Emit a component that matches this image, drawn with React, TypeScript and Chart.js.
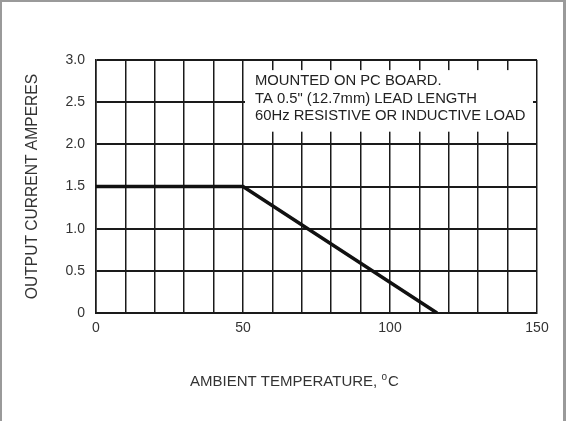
import React, { useEffect, useRef } from "react";
import { Chart, registerables } from "chart.js";

Chart.register(...registerables);

const tempC = [0, 50, 116];
const currentA = [1.5, 1.5, 0];
const xTickLabels = [0, 50, 100, 150];
const noteLines = [
  "MOUNTED ON PC BOARD.",
  'TA 0.5" (12.7mm) LEAD LENGTH',
  "60Hz RESISTIVE OR INDUCTIVE LOAD",
];
const yTitle = "OUTPUT CURRENT AMPERES";
const xTitle = "AMBIENT TEMPERATURE, ";

const FONT = "'Liberation Sans', Arial, sans-serif";

const overlayPlugin = {
  id: "overlay",
  afterDraw(chart: any) {
    const { ctx, chartArea, scales } = chart;
    const xs = scales.x;
    const ys = scales.y;
    ctx.save();
    // note box
    const bx = xs.getPixelForValue(50) + 2;
    const bx2 = xs.getPixelForValue(150) - 4;
    const by = ys.getPixelForValue(2.88);
    const by2 = ys.getPixelForValue(2.15);
    ctx.fillStyle = "#fff";
    ctx.fillRect(bx, by, bx2 - bx, by2 - by);
    ctx.fillStyle = "#222";
    ctx.font = `14.8px ${FONT}`;
    ctx.textBaseline = "middle";
    ctx.textAlign = "left";
    const lineYs = [80, 98, 115].map((v) => v - 60 + chartArea.top);
    noteLines.forEach((t, i) => ctx.fillText(t, bx + 10, lineYs[i] + 0.5));
    // y title
    ctx.fillStyle = "#333";
    ctx.font = `15.6px ${FONT}`;
    ctx.translate(33, (chartArea.top + chartArea.bottom) / 2);
    ctx.rotate(-Math.PI / 2);
    ctx.textAlign = "center";
    ctx.fillText(yTitle, 0, 0);
    ctx.restore();
    // x title
    ctx.save();
    ctx.fillStyle = "#333";
    ctx.font = `15px ${FONT}`;
    ctx.textBaseline = "middle";
    ctx.textAlign = "left";
    const tx = 190;
    const ty = 382;
    ctx.fillText(xTitle, tx, ty);
    const w = ctx.measureText(xTitle).width;
    ctx.font = `10px ${FONT}`;
    ctx.fillText("o", tx + w, ty - 5);
    const w2 = ctx.measureText("o").width;
    ctx.font = `15px ${FONT}`;
    ctx.fillText("C", tx + w + w2 + 1, ty);
    ctx.restore();
  },
};

export default function App() {
  const ref = useRef<HTMLCanvasElement>(null);
  useEffect(() => {
    document.body.style.margin = "0";
    const chart = new Chart(ref.current!, {
      type: "line",
      data: {
        datasets: [
          {
            data: tempC.map((x, i) => ({ x, y: currentA[i] })),
            borderColor: "#111",
            borderWidth: 3.5,
            pointRadius: 0,
            fill: false,
          },
        ],
      },
      options: {
        animation: false,
        responsive: false,
        devicePixelRatio: 1,
        layout: { padding: { top: 60, right: 29, left: 0, bottom: 0 } },
        plugins: { legend: { display: false }, tooltip: { enabled: false } },
        scales: {
          x: {
            type: "linear",
            min: 0,
            max: 150,
            afterFit(s: any) {
              s.height = 108;
            },
            ticks: {
              stepSize: 10,
              autoSkip: false,
              maxRotation: 0,
              padding: 7,
              color: "#333",
              font: { family: FONT, size: 14 },
              callback: (v: any) => (xTickLabels.includes(v) ? String(v) : ""),
            },
            grid: { color: "#1a1a1a", lineWidth: 1.5, drawTicks: false },
            border: { color: "#1a1a1a", width: 2 },
          },
          y: {
            min: 0,
            max: 3,
            afterFit(s: any) {
              s.width = 96;
            },
            ticks: {
              stepSize: 0.5,
              padding: 11,
              color: "#333",
              font: { family: FONT, size: 14 },
              callback: (v: any) => (v === 0 ? "0" : Number(v).toFixed(1)),
            },
            grid: { color: "#1a1a1a", lineWidth: 2, drawTicks: false },
            border: { color: "#1a1a1a", width: 1.5 },
          },
        },
      },
      plugins: [overlayPlugin],
    });
    return () => chart.destroy();
  }, []);
  return (
    <div style={{ position: "relative", width: 566, height: 421, background: "#fff" }}>
      <canvas ref={ref} width={566} height={421} style={{ position: "absolute", left: 0, top: 0 }} />
      <div
        style={{
          position: "absolute",
          left: 0,
          top: 0,
          width: 566,
          height: 421,
          boxSizing: "border-box",
          borderTop: "2px solid #9a9a9a",
          borderLeft: "2px solid #9a9a9a",
          borderRight: "3px solid #9a9a9a",
          pointerEvents: "none",
        }}
      />
    </div>
  );
}
